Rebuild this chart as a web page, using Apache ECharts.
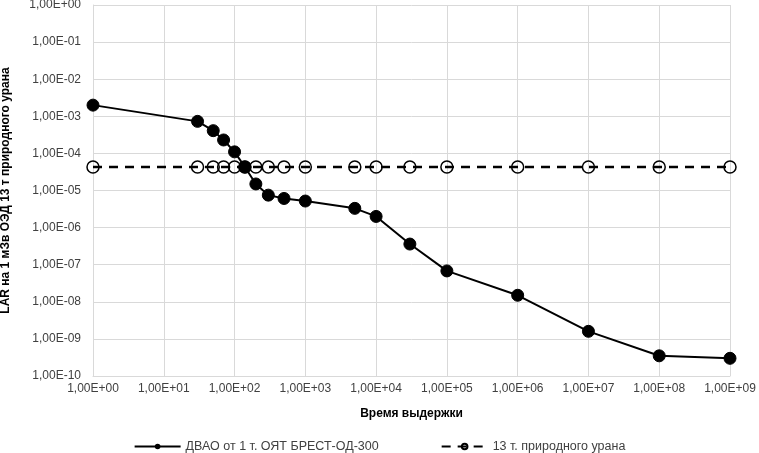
<!DOCTYPE html>
<html><head><meta charset="utf-8">
<script src="https://cdn.jsdelivr.net/npm/echarts@6/dist/echarts.min.js"></script>
<style>html,body{margin:0;padding:0;background:#fff}#c{width:759px;height:453px}</style>
</head><body><div id="c"></div>
<script>
const times = [1, 30, 50, 70, 100, 140, 200, 300, 500, 1000, 5000, 10000, 30000, 100000, 1000000, 10000000, 100000000, 1000000000];
const dvaoValues = [2.0e-3, 7.3e-4, 4.1e-4, 2.3e-4, 1.1e-4, 4.3e-5, 1.5e-5, 7.5e-6, 6.1e-6, 5.2e-6, 3.3e-6, 2.0e-6, 3.6e-7, 6.8e-8, 1.5e-8, 1.6e-9, 3.5e-10, 3.0e-10];
const uraniumValues = [4.3e-5, 4.3e-5, 4.3e-5, 4.3e-5, 4.3e-5, 4.3e-5, 4.3e-5, 4.3e-5, 4.3e-5, 4.3e-5, 4.3e-5, 4.3e-5, 4.3e-5, 4.3e-5, 4.3e-5, 4.3e-5, 4.3e-5, 4.3e-5];
const xTickLabels = ['1,00E+00','1,00E+01','1,00E+02','1,00E+03','1,00E+04','1,00E+05','1,00E+06','1,00E+07','1,00E+08','1,00E+09'];
const yTickLabels = ['1,00E-10','1,00E-09','1,00E-08','1,00E-07','1,00E-06','1,00E-05','1,00E-04','1,00E-03','1,00E-02','1,00E-01','1,00E+00'];
const seriesNames = ['ДВАО от 1 т. ОЯТ БРЕСТ-ОД-300', '13 т. природного урана'];

const font = 'Liberation Sans, Arial, sans-serif';
function xLab(v){ const e = Math.round(Math.log10(v)); return xTickLabels[e] || ''; }
function yLab(v){ const e = Math.round(Math.log10(v)); return yTickLabels[e + 10] || ''; }

const chart = echarts.init(document.getElementById('c'), null, {renderer:'canvas'});
chart.setOption({
  animation: false,
  backgroundColor: '#fff',
  grid: {left: 93, right: 29, top: 5, bottom: 77, outerBoundsMode: 'none', containLabel: false},
  xAxis: {
    type: 'log', logBase: 10, min: 1, max: 1e9, interval: 1,
    name: 'Время выдержки', nameLocation: 'middle', nameGap: 32,
    nameTextStyle: {fontFamily: font, fontSize: 12, fontWeight: 'bold', color: '#000'},
    axisLine: {show: true, lineStyle: {color: '#d9d9d9', width: 1}},
    axisTick: {show: false},
    splitLine: {show: true, lineStyle: {color: '#d9d9d9', width: 1}},
    axisLabel: {formatter: xLab, fontFamily: font, fontSize: 12, color: '#404040', margin: 7, hideOverlap: false}
  },
  yAxis: {
    type: 'log', logBase: 10, min: 1e-10, max: 1, interval: 1,
    name: 'LAR на 1 мЗв ОЭД 13 т природного урана', nameLocation: 'middle', nameGap: 81,
    nameTextStyle: {fontFamily: font, fontSize: 12, fontWeight: 'bold', color: '#000'},
    axisLine: {show: true, lineStyle: {color: '#d9d9d9', width: 1}},
    axisTick: {show: false},
    splitLine: {show: true, lineStyle: {color: '#d9d9d9', width: 1}},
    axisLabel: {formatter: yLab, fontFamily: font, fontSize: 12, color: '#404040', margin: 12, hideOverlap: false}
  },
  legend: {
    top: 435, left: 'center', itemGap: 62, itemWidth: 46, itemHeight: 7,
    data: seriesNames,
    textStyle: {fontFamily: font, fontSize: 12.5, color: '#404040'}
  },
  series: [
    {
      name: seriesNames[0], type: 'line', z: 3,
      data: times.map((t, i) => [t, dvaoValues[i]]),
      symbol: 'circle', symbolSize: 12,
      lineStyle: {color: '#000', width: 2},
      itemStyle: {color: '#000', borderColor: '#000'}
    },
    {
      name: seriesNames[1], type: 'line', z: 2,
      data: times.map((t, i) => [t, uraniumValues[i]]),
      symbol: 'circle', symbolSize: 12,
      lineStyle: {color: '#000', width: 2.5, type: [9, 7]},
      itemStyle: {color: 'rgba(0,0,0,0)', borderColor: '#000', borderWidth: 1.5}
    }
  ]
});
</script></body></html>
